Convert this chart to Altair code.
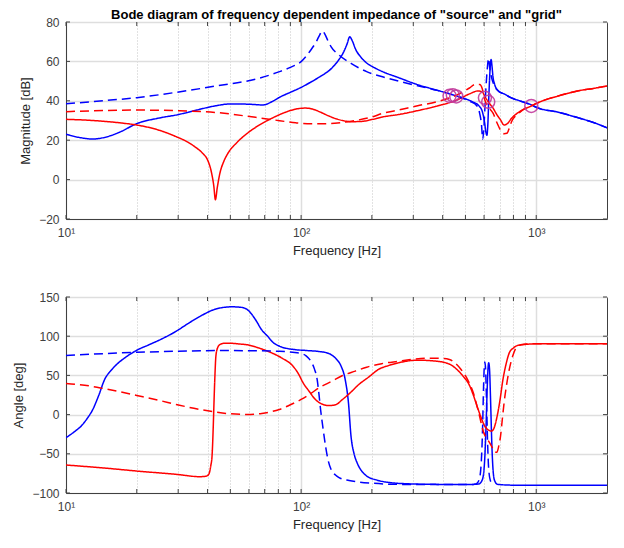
import altair as alt
import pandas as pd

# ---------------- Magnitude panel data ----------------
mag_src_f = [10, 11.5, 13, 15, 17, 20, 25, 30, 36, 43, 50, 59, 69, 75, 81, 90, 100, 110, 120, 134,
             145, 152, 157, 161, 165, 170, 180, 190, 205, 222, 259, 313, 380, 443, 500, 540, 570,
             590, 603, 611, 617, 622, 630, 638, 643, 648, 655, 665, 690, 730, 780, 850, 955, 1000,
             1229, 1497, 1750, 2000]
mag_src_db = [23.0, 21.3, 20.6, 21.8, 24.2, 28.4, 31.3, 33.0, 35.3, 37.4, 38.4, 38.3, 37.9, 39.5, 41.8,
              44.3, 46.8, 49.5, 52.2, 56.2, 61.0, 65.0, 69.0, 72.5, 70.5, 66.5, 62.0, 59.2, 56.8, 54.8,
              51.8, 48.2, 45.3, 43.0, 41.0, 39.3, 37.5, 34.5, 29.0, 24.0, 22.5, 27.0, 45.0, 58.0, 61.0,
              58.0, 52.0, 48.5, 45.0, 43.5, 41.6, 40.0, 37.9, 36.7, 34.3, 31.5, 29.0, 26.3]

mag_src2_f = [10, 15, 20, 29.4, 43.4, 64, 81, 90, 100, 110, 116, 120, 123, 126, 130, 134, 145, 163,
              190, 222, 259, 313, 380, 460, 520, 560, 575, 585, 592, 598, 610, 620, 627, 634, 645,
              660, 690, 730, 780, 850, 955, 1000, 1229, 1497, 1750, 2000]
mag_src2_db = [38.5, 40.2, 41.6, 44.3, 47.5, 51.0, 54.8, 57.0, 59.9, 65.8, 70.0, 73.5, 75.5, 74.0, 70.5,
               67.5, 63.2, 59.0, 54.8, 52.2, 50.0, 47.6, 45.3, 42.3, 39.8, 37.4, 33.5, 28.0, 20.5, 25.0,
               45.0, 57.0, 61.5, 57.0, 52.0, 48.3, 45.0, 43.5, 41.6, 40.0, 37.9, 36.7, 34.3, 31.5, 29.0,
               26.3]

mag_grid_f = [10, 13, 17, 20, 25, 29.4, 33, 35.3, 38, 40, 41.5, 42.5, 43.2, 44, 45.1, 47, 48.8, 53, 59,
              66, 75, 85, 94, 104, 112, 120, 130, 139, 150, 163, 180, 200, 222, 259, 313, 380, 460,
              520, 565, 590, 604, 625, 656, 680, 705, 730, 755, 785, 850, 905, 955, 1000, 1100, 1229,
              1365, 1500, 1750, 2000]
mag_grid_db = [30.6, 30.0, 28.8, 27.7, 25.0, 21.8, 19.0, 16.7, 13.5, 10.0, 4.0, -3.0, -10.2, -4.0, 3.0,
               9.5, 13.3, 18.5, 23.5, 27.5, 31.1, 34.0, 35.7, 36.3, 35.8, 34.4, 32.5, 31.1, 30.0, 29.4,
               29.5, 30.5, 31.8, 33.0, 35.0, 37.4, 40.4, 43.5, 45.0, 44.5, 42.3, 39.5, 36.2, 33.0, 30.3,
               27.7, 28.5, 31.1, 34.5, 36.2, 37.4, 38.6, 40.6, 42.3, 43.8, 45.0, 46.3, 47.5]

mag_grid2_f = [10, 15, 20, 29, 43, 64, 81, 95, 110, 125, 139, 155, 176, 200, 222, 259, 313, 380, 460,
               520, 550, 575, 590, 604, 625, 656, 680, 705, 730, 750, 770, 785, 840, 905, 955, 1000,
               1100, 1229, 1365, 1500, 1750, 2000]
mag_grid2_db = [34.5, 35.1, 35.3, 35.0, 34.1, 31.6, 29.9, 28.8, 28.3, 28.3, 28.6, 29.2, 30.3, 31.8,
                33.6, 35.3, 37.5, 39.6, 43.0, 46.5, 48.3, 48.3, 46.0, 40.5, 37.0, 33.6, 29.0, 25.1,
                23.3, 23.5, 26.5, 29.4, 33.5, 36.5, 37.6, 38.6, 40.6, 42.3, 43.8, 45.0, 46.3, 47.5]

# intersection markers
cross_f = [428, 442, 457, 605, 625, 953]
cross_db = [42.5, 42.8, 42.2, 41.5, 39.5, 37.4]

# ---------------- Angle panel data ----------------
ang_src_f = [10, 11, 11.6, 12.3, 13, 13.8, 14.6, 15.5, 16.4, 18, 20, 22.5, 25.2, 29.4, 33, 37.2, 43.4,
             50.7, 55, 59, 64, 68, 72, 76, 81, 94, 105, 119, 128, 134, 141, 148, 154, 159, 163, 168,
             173, 180, 190, 210, 240, 300, 380, 540, 570, 590, 603, 611, 619, 624, 628, 633, 640, 647,
             655, 665, 685, 800, 2000]
ang_src_deg = [-29.5, -20.5, -14.7, -5.0, 6.5, 25.0, 44.8, 56.0, 63.8, 73.5, 82.1, 89.0, 95.7, 106.3,
               116.0, 125.4, 134.7, 137.5, 137.0, 134.0, 121.0, 108.0, 100.0, 92.0, 87.2, 82.9, 81.8,
               80.5, 79.0, 76.6, 71.0, 61.7, 44.7, 15.0, -27.4, -50.0, -61.4, -71.0, -78.3, -83.5,
               -86.8, -88.5, -89.0, -89.0, -88.5, -83.0, -60.0, -20.0, 35.0, 60.0, 66.0, 58.0, 15.0,
               -35.0, -70.0, -84.0, -89.0, -90.0, -90.0]

ang_src2_f = [10, 15, 20, 30, 43.4, 60, 80.8, 92, 100, 105, 110, 114, 117, 119, 121, 124, 127, 130,
              134, 140, 145, 160, 176, 200, 259, 540, 555, 572, 584, 591, 597, 601, 605, 609, 615,
              621, 628, 638, 655]
ang_src2_deg = [75.3, 78.0, 79.5, 80.8, 81.7, 81.5, 80.8, 79.5, 77.9, 75.0, 68.1, 58.0, 44.8, 27.0,
                6.5, -18.0, -40.0, -57.0, -69.8, -77.0, -80.4, -84.0, -86.0, -87.5, -89.0, -89.0,
                -88.5, -83.0, -60.0, -20.0, 35.0, 60.0, 67.0, 58.0, 15.0, -35.0, -70.0, -84.0, -89.0]

ang_grid_f = [10, 15, 20, 29.4, 37.2, 39.5, 40.5, 41.3, 41.8, 42.3, 42.6, 43, 43.4, 44, 45.1, 47, 50,
              55, 59, 66, 75, 83, 91, 97, 102, 108, 115, 124, 132, 140, 150, 162, 176, 195, 213, 235,
              259, 313, 380, 430, 460, 490, 518, 540, 560, 580, 604, 625, 645, 660, 670, 682, 700,
              722, 745, 768, 800, 830, 900, 1000, 2000]
ang_grid_deg = [-64.3, -68.5, -72.0, -76.2, -79.2, -78.5, -76.0, -65.0, -52.9, -15.0, 15.0, 50.0,
                74.5, 84.0, 89.3, 91.0, 91.0, 90.0, 89.0, 85.0, 78.7, 72.0, 63.8, 53.0, 40.5, 30.0,
                19.3, 12.9, 11.5, 12.5, 19.3, 28.0, 38.4, 48.5, 57.5, 62.5, 66.0, 69.4, 68.0, 64.0,
                57.5, 48.5, 38.4, 25.0, 10.8, -2.0, -14.7, -19.5, -21.0, -18.0, -12.0, -2.0, 17.0,
                44.8, 65.0, 78.7, 85.0, 88.0, 89.5, 90.3, 90.5]

ang_grid2_f = [10, 12, 14, 17, 20, 25, 29.4, 35, 43.4, 50, 59, 68, 80.8, 90, 100, 110, 119, 135, 150,
               170, 190, 220, 259, 300, 352, 400, 427, 455, 479, 510, 540, 570, 598, 615, 634, 650,
               665, 680, 693, 705, 718, 730, 748, 768, 795, 830, 870, 905, 1000, 2000]
ang_grid2_deg = [39.7, 37.5, 34.0, 29.0, 24.4, 18.0, 13.0, 8.0, 3.2, 1.0, 0.2, 1.5, 6.6, 12.5, 19.3,
                 27.0, 34.0, 42.5, 49.8, 55.5, 60.5, 65.0, 68.0, 70.5, 72.0, 71.5, 70.2, 65.0, 57.5,
                 45.0, 27.8, 2.0, -23.0, -30.0, -36.0, -42.0, -48.0, -48.0, -40.0, -27.4, -5.0, 15.0,
                 38.0, 57.5, 75.0, 87.0, 89.5, 90.0, 90.3, 90.5]

series_names = ["source", "source (dashed)", "grid", "grid (dashed)"]
series_colors = ["#0000ff", "#0000ff", "#ff0000", "#ff0000"]
series_dash = [[1, 0], [9, 5], [1, 0], [9, 5]]

x_major = [10, 100, 1000]
x_minor = [20, 30, 40, 50, 60, 70, 80, 90, 200, 300, 400, 500, 600, 700, 800, 900]
x_ticks = sorted(x_major + x_minor)
mag_ticks = [-20, 0, 20, 40, 60, 80]
ang_ticks = [-100, -50, 0, 50, 100, 150]


def frame(pairs):
    rows = []
    for name, fs, vs in pairs:
        for f, v in zip(fs, vs):
            rows.append({"f": f, "v": v, "s": name})
    return pd.DataFrame(rows)


mag_df = frame([(series_names[0], mag_src_f, mag_src_db),
                (series_names[2], mag_grid_f, mag_grid_db),
                (series_names[1], mag_src2_f, mag_src2_db),
                (series_names[3], mag_grid2_f, mag_grid2_db)])
ang_df = frame([(series_names[0], ang_src_f, ang_src_deg),
                (series_names[2], ang_grid_f, ang_grid_deg),
                (series_names[1], ang_src2_f, ang_src2_deg),
                (series_names[3], ang_grid2_f, ang_grid2_deg)])
cross_df = pd.DataFrame({"f": cross_f, "v": cross_db})

FONT = "Liberation Sans"
AXIS_GRAY = "#404040"
W = 541
TICK = 4

major_test = "datum.value == 10 || datum.value == 100 || datum.value == 1000"

x_axis = alt.Axis(
    title="Frequency [Hz]",
    values=x_ticks,
    labelExpr="datum.value == 10 ? '10¹' : datum.value == 100 ? '10²' : datum.value == 1000 ? '10³' : ''",
    grid=True,
    gridDash={"condition": {"test": major_test, "value": [1, 0]}, "value": [1, 2]},
    gridColor={"condition": {"test": major_test, "value": "#dedede"}, "value": "#c4c4c4"},
    gridWidth={"condition": {"test": major_test, "value": 1.5}, "value": 1},
    ticks=False,
    labelPadding=8,
    titlePadding=6,
    labelFlush=False,
    labelOverlap=False,
)

x_enc = alt.X("f:Q", scale=alt.Scale(type="log", domain=[10, 2000], nice=False), axis=x_axis)
color_enc = alt.Color("s:N", scale=alt.Scale(domain=series_names, range=series_colors), legend=None)
dash_enc = alt.StrokeDash("s:N", scale=alt.Scale(domain=series_names, range=series_dash), legend=None)


def y_axis(title, ticks):
    return alt.Axis(title=title, values=ticks, grid=True, gridColor="#dedede", gridWidth=1.5,
                    ticks=False, labelPadding=7, titlePadding=6, labelOverlap=False,
                    tickCount=len(ticks))


def inner_ticks(y_enc, y_vals, height):
    """MATLAB-style inward ticks on all four sides of the box."""
    xt = alt.Chart(pd.DataFrame({"f": x_ticks}))
    yt = alt.Chart(pd.DataFrame({"v": y_vals}))
    style = dict(color=AXIS_GRAY, strokeWidth=1)
    bottom = xt.mark_rule(**style).encode(x=x_enc, y=alt.value(height), y2=alt.value(height - TICK))
    top = xt.mark_rule(**style).encode(x=x_enc, y=alt.value(0), y2=alt.value(TICK))
    left = yt.mark_rule(**style).encode(y=y_enc, x=alt.value(0), x2=alt.value(TICK))
    right = yt.mark_rule(**style).encode(y=y_enc, x=alt.value(W), x2=alt.value(W - TICK))
    return [bottom, top, left, right]


mag_y = alt.Y("v:Q", scale=alt.Scale(domain=[-20, 80], nice=False),
              axis=y_axis("Magnitude [dB]", mag_ticks))
ang_y = alt.Y("v:Q", scale=alt.Scale(domain=[-100, 150], nice=False),
              axis=y_axis("Angle [deg]", ang_ticks))

MAG_H, ANG_H = 197, 196

mag_lines = alt.Chart(mag_df).mark_line(strokeWidth=1.5, interpolate="monotone", clip=True).encode(
    x=x_enc, y=mag_y, color=color_enc, strokeDash=dash_enc, detail="s:N",
)
mag_points = alt.Chart(cross_df).mark_point(shape="circle", filled=False, size=170, strokeWidth=1.5,
                                            color="#c2399c", opacity=0.9).encode(x=x_enc, y=mag_y)

mag_chart = alt.layer(mag_lines, mag_points, *inner_ticks(mag_y, mag_ticks, MAG_H)).properties(
    width=W, height=MAG_H,
    title=alt.TitleParams('Bode diagram of frequency dependent impedance of "source" and "grid"',
                          fontSize=13, fontWeight="bold", font=FONT, color="#000000",
                          anchor="middle", frame="group", offset=-6),
)

ang_lines = alt.Chart(ang_df).mark_line(strokeWidth=1.5, interpolate="monotone", clip=True).encode(
    x=x_enc, y=ang_y, color=color_enc, strokeDash=dash_enc, detail="s:N",
)
ang_chart = alt.layer(ang_lines, *inner_ticks(ang_y, ang_ticks, ANG_H)).properties(width=W, height=ANG_H)

chart = alt.vconcat(mag_chart, ang_chart, spacing=32).properties(
    padding={"left": 4, "top": 0, "right": 5, "bottom": 0},
).configure(font=FONT).configure_axis(
    labelFont=FONT, titleFont=FONT, labelFontSize=12, titleFontSize=13,
    labelColor="#404040", titleColor="#262626", titleFontWeight="normal",
    domainColor=AXIS_GRAY, domainWidth=1,
).configure_view(stroke=AXIS_GRAY, strokeWidth=1)

chart.save("out.html", embed_options={"renderer": "svg", "actions": False})
